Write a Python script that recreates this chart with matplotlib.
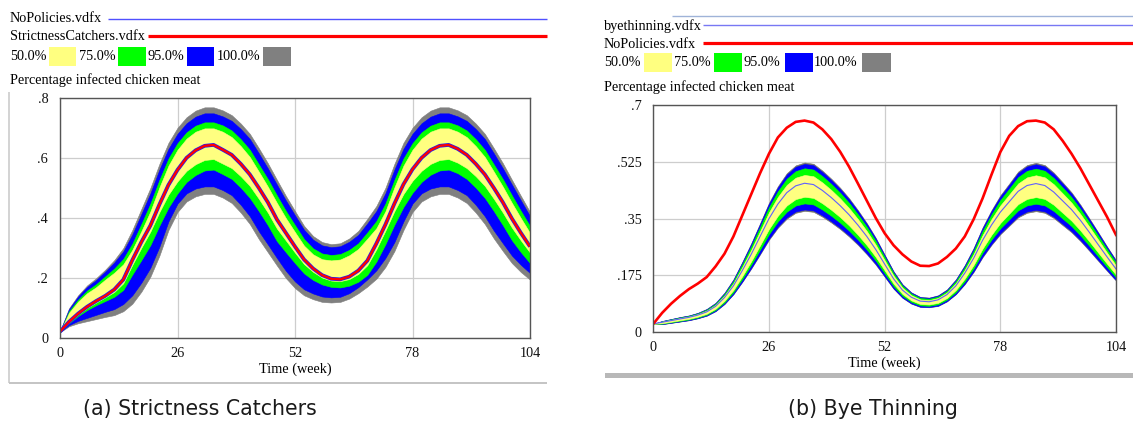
import matplotlib
matplotlib.use("Agg")
import matplotlib.pyplot as plt
import numpy as np
from matplotlib.patches import Rectangle
from matplotlib.lines import Line2D

W, H, DPI = 1133, 426, 100

# ---------------------------------------------------------------- data
weeks = list(range(0, 105, 2))

# (a) StrictnessCatchers sensitivity run (NoPolicies runs along the median)
left_median = [0.022, 0.055, 0.082, 0.105, 0.124, 0.141, 0.162, 0.195, 0.260, 0.320,
               0.375, 0.445, 0.510, 0.560, 0.600, 0.625, 0.640, 0.643, 0.627, 0.610,
               0.580, 0.545, 0.500, 0.452, 0.395, 0.350, 0.305, 0.262, 0.232, 0.210,
               0.198, 0.196, 0.205, 0.225, 0.258, 0.315, 0.378, 0.448, 0.512, 0.562,
               0.600, 0.626, 0.640, 0.643, 0.630, 0.610, 0.580, 0.545, 0.500, 0.452,
               0.398, 0.350, 0.305]
left_max = [0.024, 0.100, 0.143, 0.176, 0.200, 0.228, 0.260, 0.300, 0.360, 0.430,
            0.500, 0.580, 0.650, 0.700, 0.735, 0.757, 0.768, 0.768, 0.758, 0.742,
            0.714, 0.680, 0.632, 0.582, 0.527, 0.473, 0.423, 0.374, 0.340, 0.320,
            0.313, 0.316, 0.332, 0.357, 0.397, 0.440, 0.500, 0.580, 0.650, 0.700,
            0.735, 0.757, 0.768, 0.768, 0.758, 0.742, 0.714, 0.680, 0.632, 0.582,
            0.527, 0.473, 0.420]
left_min = [0.020, 0.040, 0.050, 0.057, 0.064, 0.071, 0.077, 0.090, 0.115, 0.155,
            0.205, 0.275, 0.360, 0.420, 0.455, 0.472, 0.480, 0.480, 0.468, 0.450,
            0.418, 0.380, 0.330, 0.286, 0.242, 0.200, 0.167, 0.143, 0.130, 0.121,
            0.119, 0.121, 0.132, 0.150, 0.172, 0.198, 0.237, 0.290, 0.360, 0.420,
            0.455, 0.472, 0.480, 0.480, 0.468, 0.450, 0.418, 0.380, 0.332, 0.290,
            0.250, 0.220, 0.195]
# distance of the 95/75/50 % upper bounds below the maximum
left_gap95_top = [0.001, 0.003, 0.004, 0.005, 0.006, 0.006, 0.008, 0.011, 0.015, 0.017,
                  0.018, 0.019, 0.020, 0.020, 0.020, 0.020, 0.020, 0.020, 0.020, 0.019,
                  0.018, 0.017, 0.017, 0.017, 0.016, 0.015, 0.014, 0.013, 0.012, 0.011,
                  0.010, 0.010, 0.011, 0.013, 0.015, 0.017, 0.018, 0.019, 0.020, 0.020,
                  0.020, 0.020, 0.020, 0.020, 0.020, 0.019, 0.018, 0.017, 0.017, 0.017,
                  0.016, 0.015, 0.014]
left_gap75_top = [0.002, 0.010, 0.014, 0.017, 0.020, 0.022, 0.028, 0.036, 0.045, 0.050,
                  0.052, 0.053, 0.052, 0.051, 0.050, 0.050, 0.050, 0.050, 0.050, 0.051,
                  0.052, 0.053, 0.054, 0.053, 0.052, 0.050, 0.047, 0.044, 0.041, 0.038,
                  0.036, 0.036, 0.038, 0.041, 0.045, 0.050, 0.052, 0.053, 0.052, 0.051,
                  0.050, 0.050, 0.050, 0.050, 0.050, 0.051, 0.052, 0.053, 0.054, 0.053,
                  0.052, 0.050, 0.047]
left_gap50_top = [0.003, 0.015, 0.021, 0.026, 0.030, 0.033, 0.042, 0.054, 0.066, 0.074,
                  0.078, 0.078, 0.076, 0.073, 0.071, 0.070, 0.070, 0.070, 0.071, 0.073,
                  0.075, 0.077, 0.078, 0.078, 0.077, 0.074, 0.070, 0.066, 0.061, 0.057,
                  0.054, 0.054, 0.056, 0.060, 0.066, 0.074, 0.078, 0.078, 0.076, 0.073,
                  0.071, 0.070, 0.070, 0.070, 0.071, 0.073, 0.075, 0.077, 0.078, 0.078,
                  0.077, 0.074, 0.070]
# distance of the 50/75 % lower bounds below the median
left_gap50_bot = [0.0005, 0.002, 0.003, 0.004, 0.005, 0.005, 0.008, 0.012, 0.016, 0.019,
                  0.020, 0.025, 0.032, 0.038, 0.043, 0.046, 0.047, 0.047, 0.046, 0.044,
                  0.041, 0.038, 0.036, 0.034, 0.030, 0.025, 0.020, 0.015, 0.011, 0.008,
                  0.006, 0.006, 0.008, 0.011, 0.015, 0.019, 0.020, 0.025, 0.032, 0.038,
                  0.043, 0.046, 0.047, 0.047, 0.046, 0.044, 0.041, 0.038, 0.036, 0.034,
                  0.030, 0.025, 0.020]
left_gap75_bot = [0.001, 0.005, 0.008, 0.011, 0.014, 0.017, 0.024, 0.034, 0.048, 0.060,
                  0.065, 0.070, 0.075, 0.078, 0.080, 0.082, 0.082, 0.082, 0.081, 0.080,
                  0.079, 0.078, 0.077, 0.076, 0.072, 0.064, 0.055, 0.046, 0.038, 0.031,
                  0.027, 0.027, 0.030, 0.037, 0.047, 0.060, 0.065, 0.070, 0.075, 0.078,
                  0.080, 0.082, 0.082, 0.082, 0.081, 0.080, 0.079, 0.078, 0.077, 0.076,
                  0.072, 0.064, 0.055]
# height of the 95 % lower bound above the minimum
left_gap95_bot = [0.001, 0.004, 0.008, 0.011, 0.014, 0.017, 0.020, 0.024, 0.028, 0.030,
                  0.030, 0.030, 0.029, 0.028, 0.027, 0.026, 0.025, 0.025, 0.025, 0.026,
                  0.026, 0.026, 0.026, 0.026, 0.025, 0.024, 0.022, 0.020, 0.019, 0.018,
                  0.017, 0.017, 0.018, 0.020, 0.024, 0.028, 0.030, 0.030, 0.029, 0.028,
                  0.027, 0.026, 0.025, 0.025, 0.025, 0.026, 0.026, 0.026, 0.026, 0.026,
                  0.025, 0.024, 0.022]

# (b) byethinning sensitivity run and the NoPolicies baseline
right_median = [0.026, 0.031, 0.036, 0.041, 0.046, 0.053, 0.063, 0.080, 0.107, 0.143,
                0.190, 0.240, 0.295, 0.350, 0.395, 0.430, 0.451, 0.459, 0.455, 0.437,
                0.415, 0.390, 0.362, 0.330, 0.295, 0.255, 0.210, 0.165, 0.130, 0.108,
                0.096, 0.094, 0.100, 0.116, 0.143, 0.182, 0.228, 0.283, 0.330, 0.370,
                0.402, 0.434, 0.452, 0.458, 0.452, 0.432, 0.405, 0.378, 0.345, 0.308,
                0.270, 0.232, 0.195]
right_nopolicies = [0.026, 0.060, 0.088, 0.112, 0.133, 0.150, 0.170, 0.203, 0.242, 0.295,
                    0.360, 0.425, 0.490, 0.550, 0.600, 0.630, 0.648, 0.652, 0.646, 0.625,
                    0.595, 0.556, 0.510, 0.458, 0.405, 0.352, 0.305, 0.268, 0.240, 0.218,
                    0.205, 0.204, 0.212, 0.232, 0.258, 0.295, 0.348, 0.412, 0.485, 0.555,
                    0.605, 0.635, 0.650, 0.652, 0.646, 0.625, 0.590, 0.550, 0.505, 0.455,
                    0.405, 0.355, 0.300]
# spread of the 100 % band above and below the median
right_gap_top = [0.000, 0.004, 0.005, 0.006, 0.006, 0.007, 0.009, 0.011, 0.015, 0.020,
                 0.027, 0.034, 0.041, 0.049, 0.055, 0.060, 0.063, 0.064, 0.064, 0.061,
                 0.058, 0.055, 0.051, 0.046, 0.041, 0.036, 0.029, 0.023, 0.018, 0.015,
                 0.013, 0.013, 0.014, 0.016, 0.020, 0.025, 0.032, 0.040, 0.046, 0.052,
                 0.056, 0.061, 0.063, 0.064, 0.063, 0.060, 0.057, 0.053, 0.048, 0.043,
                 0.038, 0.032, 0.027]
right_gap_bot = [0.000, 0.006, 0.007, 0.008, 0.009, 0.010, 0.012, 0.015, 0.020, 0.026,
                 0.035, 0.044, 0.055, 0.065, 0.073, 0.080, 0.083, 0.085, 0.084, 0.081,
                 0.077, 0.072, 0.067, 0.061, 0.055, 0.047, 0.039, 0.031, 0.024, 0.020,
                 0.018, 0.017, 0.019, 0.021, 0.026, 0.034, 0.042, 0.052, 0.061, 0.068,
                 0.074, 0.080, 0.084, 0.085, 0.084, 0.080, 0.075, 0.070, 0.064, 0.057,
                 0.050, 0.043, 0.036]
# where each narrower band ends, as a share of that spread
right_share_top = [0.93, 0.72, 0.40]   # 95 %, 75 %, 50 %
right_share_bot = [0.95, 0.73, 0.49]

band_labels = ["50.0%", "75.0%", "95.0%", "100.0%"]
band_colors = ["#ffff80", "#00ff00", "#0000ff", "#808080"]
x_ticks = [0, 26, 52, 78, 104]
left_yticks = [0, 0.2, 0.4, 0.6, 0.8]
left_ylabels = ["0", ".2", ".4", ".6", ".8"]
right_yticks = [0, 0.175, 0.35, 0.525, 0.7]
right_ylabels = ["0", ".175", ".35", ".525", ".7"]

SERIF = ["Liberation Serif", "DejaVu Serif"]
FS = 10.3


def fx(x):
    return x / W


def fy(y):
    return 1 - y / H


fig = plt.figure(figsize=(W / DPI, H / DPI), dpi=DPI)
fig.patch.set_facecolor("white")


def hline(x0, x1, y, color, lw):
    fig.add_artist(Line2D([fx(x0), fx(x1)], [fy(y), fy(y)], transform=fig.transFigure,
                          color=color, lw=lw, solid_capstyle="butt"))


def vline(x, y0, y1, color, lw):
    fig.add_artist(Line2D([fx(x), fx(x)], [fy(y0), fy(y1)], transform=fig.transFigure,
                          color=color, lw=lw, solid_capstyle="butt"))


def ftext(x, y, s, **kw):
    kw.setdefault("family", SERIF)
    kw.setdefault("fontsize", FS)
    kw.setdefault("va", "center")
    kw.setdefault("ha", "left")
    fig.text(fx(x), fy(y), s, **kw)


def fbox(x0, x1, y0, y1, color):
    fig.add_artist(Rectangle((fx(x0), fy(y1)), (x1 - x0) / W, (y1 - y0) / H,
                             transform=fig.transFigure, facecolor=color, edgecolor="none"))


def legend_row(y, text_x, box_x):
    for lab, col, tx, (b0, b1) in zip(band_labels, band_colors, text_x, box_x):
        ftext(tx, y, lab)
        fbox(b0, b1, y - 9.5, y + 9.5, col)


def setup_axes(rect, yticks, ylabels):
    x0, y_top, x1, y_bot = rect
    ax = fig.add_axes([fx(x0), fy(y_bot), (x1 - x0) / W, (y_bot - y_top) / H])
    ax.set_xlim(0, 104)
    ax.set_ylim(yticks[0], yticks[-1])
    ax.set_xticks(x_ticks)
    ax.set_xticklabels([str(v) for v in x_ticks], family=SERIF, fontsize=FS)
    ax.set_yticks(yticks)
    ax.set_yticklabels(ylabels, family=SERIF, fontsize=FS)
    ax.tick_params(length=0, pad=6.5, colors="#111111")
    ax.tick_params(axis="y", pad=8.5)
    ax.grid(True, color="#cdcdcd", lw=0.9)
    ax.set_axisbelow(True)
    for sp in ax.spines.values():
        sp.set_color("#555555")
        sp.set_linewidth(1.0)
        sp.set_zorder(5)
    ax.set_xlabel("Time (week)", family=SERIF, fontsize=FS, labelpad=1.5)
    return ax


def fill(ax, t, lo, hi, color):
    ax.fill_between(t, lo, hi, color=color, lw=0.4, ec=color, zorder=2)


t = np.array(weeks, dtype=float)

# ---------------------------------------------------------------- panel (a)
med = np.array(left_median)
gmax = np.array(left_max)
gmin = np.array(left_min)
ax1 = setup_axes((60, 97.7, 530, 338.3), left_yticks, left_ylabels)
fill(ax1, t, gmin, gmax, band_colors[3])
fill(ax1, t, gmin + np.array(left_gap95_bot), gmax - np.array(left_gap95_top), band_colors[2])
fill(ax1, t, med - np.array(left_gap75_bot), gmax - np.array(left_gap75_top), band_colors[1])
fill(ax1, t, med - np.array(left_gap50_bot), gmax - np.array(left_gap50_top), band_colors[0])
ax1.plot(t, left_median, color="#1a1aff", lw=2.7, zorder=3, solid_capstyle="butt")
ax1.plot(t, left_median, color="#ff0000", lw=1.7, zorder=4, solid_capstyle="butt")

ftext(10, 19, "NoPolicies.vdfx")
hline(108, 547, 18.5, "#5050ff", 1.0)
ftext(10, 37, "StrictnessCatchers.vdfx")
hline(148, 547, 36, "#ff0000", 2.3)
legend_row(56.5, [10, 79, 148, 217], [(49, 76), (118, 146), (187, 214), (263, 291)])
ftext(10, 80.5, "Percentage infected chicken meat")

vline(9, 92, 383, "#cccccc", 1.2)
hline(9, 547, 383, "#c4c4c4", 1.4)

# ---------------------------------------------------------------- panel (b)
rmed = np.array(right_median)
up = np.array(right_gap_top)
dn = np.array(right_gap_bot)
ax2 = setup_axes((653.3, 105, 1116, 332.3), right_yticks, right_ylabels)
fill(ax2, t, rmed - dn, rmed + up, "#707070")
fill(ax2, t, rmed - dn * right_share_bot[0], rmed + up * right_share_top[0], band_colors[2])
fill(ax2, t, rmed - dn * right_share_bot[1], rmed + up * right_share_top[1], band_colors[1])
fill(ax2, t, rmed - dn * right_share_bot[2], rmed + up * right_share_top[2], band_colors[0])
ax2.plot(t, right_median, color="#5f5fff", lw=0.8, zorder=3)
ax2.plot(t, right_nopolicies, color="#ff0000", lw=1.9, zorder=4)

hline(672, 1133, 15.5, "#9fb3d8", 1.0)
ftext(604, 26, "byethinning.vdfx")
hline(703, 1133, 24.5, "#7878f4", 1.0)
ftext(604, 44, "NoPolicies.vdfx")
hline(703, 1133, 42.5, "#ff0000", 2.3)
legend_row(62.5, [604, 674, 744, 814], [(644, 672), (714, 742), (785, 813), (862, 891)])
ftext(604, 87, "Percentage infected chicken meat")

fbox(605, 1133, 373, 378, "#b8b8b8")

# ---------------------------------------------------------------- captions
fig.text(fx(200), fy(409), "(a) Strictness Catchers", ha="center", va="center",
         fontsize=14.8, family="DejaVu Sans", color="#1a1a1a")
fig.text(fx(873), fy(409), "(b) Bye Thinning", ha="center", va="center",
         fontsize=14.8, family="DejaVu Sans", color="#1a1a1a")

fig.savefig("out.png", dpi=DPI, facecolor="white")
